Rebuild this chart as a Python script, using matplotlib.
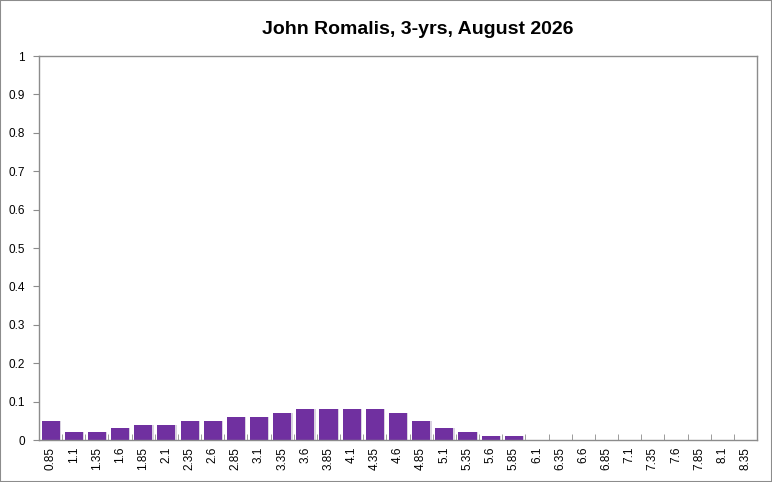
import numpy as np
import matplotlib
matplotlib.use("Agg")
import matplotlib.pyplot as plt
from matplotlib.patches import Rectangle

categories = ["0.85", "1.1", "1.35", "1.6", "1.85", "2.1", "2.35", "2.6", "2.85", "3.1",
              "3.35", "3.6", "3.85", "4.1", "4.35", "4.6", "4.85", "5.1", "5.35", "5.6",
              "5.85", "6.1", "6.35", "6.6", "6.85", "7.1", "7.35", "7.6", "7.85", "8.1", "8.35"]
probs = [0.05, 0.02, 0.02, 0.03, 0.04, 0.04, 0.05, 0.05, 0.06, 0.06,
         0.07, 0.08, 0.08, 0.08, 0.08, 0.07, 0.05, 0.03, 0.02, 0.01,
         0.01, 0, 0, 0, 0, 0, 0, 0, 0, 0, 0]
y_ticks = [0, 0.1, 0.2, 0.3, 0.4, 0.5, 0.6, 0.7, 0.8, 0.9, 1]
y_labels = ["0", "0.1", "0.2", "0.3", "0.4", "0.5", "0.6", "0.7", "0.8", "0.9", "1"]

plt.rcParams['font.family'] = ['Liberation Sans', 'DejaVu Sans']

fig = plt.figure(figsize=(7.72, 4.82), dpi=100)
fig.patches.append(Rectangle((0, 0), 1, 1, transform=fig.transFigure, fill=False,
                             edgecolor='#8c8c8c', linewidth=1.5))
ax = fig.add_axes([0.0505, 0.0871, 0.9301, 0.7967])

x = np.arange(len(categories))
# light shadow behind bars
ax.bar(x + 0.06, probs, width=0.78, color='#d9d2e0', zorder=1)
ax.bar(x, probs, width=0.78, color='#7030a0', zorder=2)

ax.set_xlim(-0.5, len(categories) - 0.5)
ax.set_ylim(0, 1)
ax.set_yticks(y_ticks)
ax.set_yticklabels(y_labels, fontsize=8.5)
ax.set_xticks(x)
ax.set_xticklabels(categories, rotation=90, fontsize=8.5)
ax.tick_params(axis='x', length=0, pad=5)
ax.set_xticks(np.arange(len(categories) + 1) - 0.5, minor=True)
ax.tick_params(axis='x', which='minor', direction='in', length=4, color='#8c8c8c')
ax.tick_params(axis='y', direction='out', length=4, color='#8c8c8c', pad=6)
for s in ax.spines.values():
    s.set_color('#8c8c8c')
    s.set_linewidth(1)

fig.text(418 / 772, 1 - 30 / 482, "John Romalis, 3-yrs, August 2026",
         ha='center', va='center', fontsize=14, fontweight='bold',
         family=['Liberation Sans Narrow', 'Liberation Sans', 'DejaVu Sans'])

fig.savefig("out.png", dpi=100)
